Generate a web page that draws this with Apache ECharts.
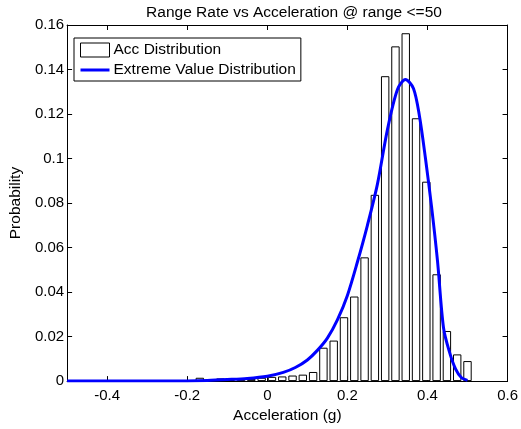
<!DOCTYPE html>
<html>
<head>
<meta charset="utf-8">
<script src="https://cdn.jsdelivr.net/npm/echarts@6/dist/echarts.min.js"></script>
<style>
html,body{margin:0;padding:0;background:#fff;}
#chart{width:521px;height:429px;}
</style>
</head>
<body>
<div id="chart"></div>
<script>
// Histogram bin centres (g) and probabilities
var binCenters = [-0.1685, -0.1428, -0.1171, -0.0914, -0.0657, -0.0400, -0.0141, 0.0116, 0.0373, 0.0630, 0.0887, 0.1144, 0.1401, 0.1658, 0.1915, 0.2172, 0.2429, 0.2686, 0.2943, 0.3200, 0.3457, 0.3714, 0.3971, 0.4228, 0.4485, 0.4742, 0.4999];
var binProb = [0.0015, 0.0000, 0.0012, 0.0004, 0.0012, 0.0010, 0.0015, 0.0019, 0.0021, 0.0025, 0.0029, 0.0041, 0.0150, 0.0182, 0.0287, 0.0380, 0.0556, 0.0837, 0.1370, 0.1504, 0.1563, 0.1181, 0.0896, 0.0480, 0.0225, 0.0120, 0.0090];

// Extreme value distribution curve
var curveX = [-0.5, -0.4, -0.3, -0.2, -0.15, -0.1, -0.05, 0, 0.04, 0.07, 0.1, 0.125, 0.15, 0.175, 0.2, 0.225, 0.25, 0.275, 0.3, 0.325, 0.345, 0.365, 0.38, 0.395, 0.41, 0.425, 0.44, 0.455, 0.47, 0.485, 0.5];
var curveY = [0, 0, 0, 0.0001, 0.0003, 0.0007, 0.0012, 0.0022, 0.0039, 0.0061, 0.0095, 0.0138, 0.0193, 0.0275, 0.0385, 0.0535, 0.070, 0.0885, 0.113, 0.131, 0.1355, 0.1315, 0.119, 0.100, 0.0786, 0.054, 0.024, 0.013, 0.0055, 0.0015, 0.0003];

var xTicks = [-0.4, -0.2, 0, 0.2, 0.4, 0.6];

var titleText = 'Range Rate vs Acceleration @ range <=50';
var xName = 'Acceleration (g)';
var yName = 'Probability';
var seriesNames = ['Acc Distribution', 'Extreme Value Distribution'];

function pairs(xs, ys) { return xs.map(function (x, i) { return [x, ys[i]]; }); }

var FONT = 'Liberation Sans, Arial, Helvetica, sans-serif';
var chart = echarts.init(document.getElementById('chart'), null, {renderer: 'canvas'});
var axisLineStyle = {show: true, onZero: false, lineStyle: {color: '#000', width: 1}};
var option = {
  animation: false,
  backgroundColor: '#fff',
  textStyle: {fontFamily: FONT},
  title: {
    text: titleText, left: 289, textAlign: 'center', top: 0,
    textStyle: {fontSize: 15.5, fontWeight: 'normal', color: '#000', fontFamily: FONT}
  },
  legend: {
    left: 74, top: 38, orient: 'vertical',
    backgroundColor: '#fff', borderColor: '#000', borderWidth: 1, borderRadius: 0,
    padding: [4, 5, 3, 6], itemGap: 4, itemWidth: 29, itemHeight: 14,
    textStyle: {fontSize: 15.5, lineHeight: 14, color: '#000', fontFamily: FONT, padding: [0, 0, 0, -1]},
    data: [
      {name: seriesNames[0], icon: 'rect', itemStyle: {color: '#fff', borderColor: '#000', borderWidth: 1}},
      {name: seriesNames[1], icon: 'path://M0,0h29v3h-29z', itemStyle: {color: '#0000ff', borderWidth: 0}}
    ]
  },
  grid: {left: 66, right: 9, top: 25, bottom: 45.5},
  xAxis: [{
    type: 'value', min: -0.5, max: 0.6,
    name: xName, nameLocation: 'middle', nameGap: 23,
    nameTextStyle: {fontSize: 15.5, color: '#000', fontFamily: FONT},
    axisLine: axisLineStyle,
    axisTick: {show: true, inside: true, length: 5, customValues: xTicks, lineStyle: {color: '#000'}},
    axisLabel: {customValues: xTicks, fontSize: 15, color: '#000', margin: 7, fontFamily: FONT,
      formatter: function (v) { return String(Math.round(v * 10) / 10); }},
    splitLine: {show: false}
  }, {
    type: 'value', min: -0.5, max: 0.6, position: 'top',
    axisLine: axisLineStyle,
    axisTick: {show: true, inside: true, length: 5, customValues: xTicks, lineStyle: {color: '#000'}},
    axisLabel: {show: false}, splitLine: {show: false}
  }],
  yAxis: [{
    type: 'value', min: 0, max: 0.16, interval: 0.02,
    name: yName, nameLocation: 'middle', nameGap: 40, nameRotate: 90,
    nameTextStyle: {fontSize: 15.5, color: '#000', fontFamily: FONT},
    axisLine: axisLineStyle,
    axisTick: {show: true, inside: true, length: 5, lineStyle: {color: '#000'}},
    axisLabel: {fontSize: 15, color: '#000', margin: 3, fontFamily: FONT,
      formatter: function (v) { return String(Math.round(v * 100) / 100); }},
    splitLine: {show: false}
  }, {
    type: 'value', min: 0, max: 0.16, interval: 0.02, position: 'right',
    axisLine: axisLineStyle,
    axisTick: {show: true, inside: true, length: 5, lineStyle: {color: '#000'}},
    axisLabel: {show: false}, splitLine: {show: false}
  }],
  series: [{
    name: seriesNames[0], type: 'bar', xAxisIndex: 0, yAxisIndex: 0,
    barWidth: 8.4,
    data: pairs(binCenters, binProb),
    itemStyle: {color: '#fff', borderColor: '#000', borderWidth: 1}
  }, {
    name: seriesNames[1], type: 'line', xAxisIndex: 0, yAxisIndex: 0,
    data: pairs(curveX, curveY), smooth: 0.3, symbol: 'none', showSymbol: false,
    lineStyle: {color: '#0000ff', width: 3}, itemStyle: {color: '#0000ff'}, z: 5
  }]
};
chart.setOption(option);
</script>
</body>
</html>
